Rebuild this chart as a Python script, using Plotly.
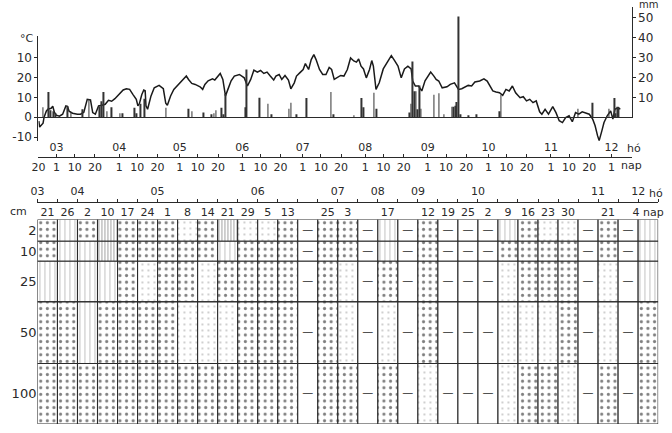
import plotly.graph_objects as go
import pandas as pd

# ---------------- data ----------------
# daily mean air temperature, x = days after 20 Feb
temp_day = [0.2, 0.6, 2.3, 2.8, 3.9, 4.7, 6.3, 7.1, 7.9, 8.8,
            10.4, 12.0, 13.6, 14.4, 15.2, 16.9, 19.3, 20.9, 22.5, 24.2,
            25.8, 26.9, 28.2, 29.8, 31.5, 33.1, 34.7, 36.3, 37.9, 40.4,
            42.0, 43.6, 45.2, 46.8, 48.5, 49.3, 50.1, 51.2, 52.2, 52.9,
            53.3, 54.1, 55.8, 57.4, 59.8, 61.9, 63.1, 63.9, 65.5, 67.1,
            69.6, 72.0, 73.3, 74.4, 76.0, 77.7, 80.1, 81.4, 82.5, 84.1,
            86.3, 87.4, 89.0, 90.1, 91.4, 92.3, 92.7, 93.9, 95.5, 97.1,
            99.6, 102.0, 103.6, 105.2, 106.8, 108.5, 110.1, 111.7, 113.3, 114.9,
            116.6, 117.7, 119.3, 120.6, 122.2, 123.9, 125.1, 126.8, 127.9, 129.5,
            131.2, 132.3, 133.9, 135.2, 136.5, 137.6, 139.3, 140.9, 142.5, 144.1,
            145.3, 146.6, 148.2, 149.8, 151.4, 153.1, 154.7, 156.3, 157.6, 158.7,
            159.9, 161.1, 162.5, 164.1, 165.2, 166.0, 167.3, 168.9, 170.9, 173.3,
            174.9, 176.6, 178.2, 179.8, 181.4, 183.1, 184.7, 185.5, 186.8, 188.4,
            190.0, 191.6, 193.3, 194.4, 196.0, 197.1, 198.4, 200.1, 202.5, 204.1,
            206.2, 208.2, 209.8, 211.4, 213.0, 214.7, 216.3, 218.7, 220.8, 222.4,
            224.1, 225.2, 226.8, 228.5, 230.1, 231.7, 233.3, 234.9, 236.5, 238.7,
            240.3, 241.9, 243.5, 245.1, 246.7, 248.4, 249.5, 251.1, 252.8, 254.9,
            256.5, 258.1, 259.7, 261.3, 263.0, 264.6, 266.2, 267.8, 269.5, 271.1,
            273.0, 274.7, 275.9, 277.1, 277.9, 279.2, 280.3, 281.9, 283.6, 284.7,
            285.7, 287.3, 288.4]
temp_c = [-2, -5, -3, 0, 3, 4, 4.5, 5.5, 2.5, 1,
          0.5, 1.5, 5.7, 5.5, 3, 2, 1.5, 1.5, 2.5, 9,
          8.7, 2.3, 1.5, 5.7, 6, 6.5, 8.5, 8, 9.3, 12.3,
          13.7, 14.3, 14, 11.5, 9, 5.7, 7, 11.3, 13.7, 13.3,
          5.7, 4, 10.7, 14.8, 16, 14.3, 7, 6, 10.7, 14,
          16.5, 19, 20.7, 19, 17, 16.5, 15.3, 14, 16.5, 18.3,
          19.3, 18.7, 21, 22, 19, 12.3, 10.7, 14, 18.3, 20.7,
          21.5, 19.8, 15.7, 19, 23.7, 22.7, 23.5, 22, 22.7, 20.7,
          18.7, 20.7, 21.5, 19, 21, 18.7, 14.3, 17.3, 20.7, 22.3,
          24, 27, 24, 29, 31.5, 29, 24, 21.5, 21.5, 25,
          24, 19, 19.8, 21, 20.7, 24, 29.8, 28.3, 27.7, 29.3,
          25.7, 24.3, 19.8, 24, 28.5, 25.7, 14, 17.3, 24.3, 28.3,
          31, 28.3, 25.7, 19.8, 24.3, 25.7, 24.3, 18.2, 15.7, 15.7,
          13.2, 18.3, 20.7, 22.7, 20.7, 19, 18.2, 14.8, 15.3, 16.5,
          17.3, 14, 14.3, 15.3, 16, 15.7, 17.7, 18.2, 19.3, 18.2,
          15.3, 13.2, 12.7, 12.3, 11, 14, 13.2, 15.7, 12.3, 9.8,
          10.3, 8.2, 9, 7.3, 8.2, 2.7, 1.5, 4, 1.5, 5.3,
          2.3, -1.8, -2.7, -0.2, 0.7, -2.3, 2.3, 1.5, 2.7, 2.3,
          1.5, -1, -4.3, -9.3, -11.8, -7, -2.7, 0.7, 3.2, -1,
          4, 4.8, 4]

# daily precipitation (mm), x = days after 20 Feb
prec_day = [2.3, 5.0, 6.0, 7.5, 8.4, 14.4, 16.1, 21.7, 25.0, 30.3,
            31.1, 32.3, 33.9, 36.3, 40.4, 41.5, 47.7, 48.5, 50.6, 52.5,
            63.1, 74.4, 76.0, 81.7, 85.8, 86.9, 87.9, 90.6, 91.8, 92.7,
            102.5, 103.1, 109.6, 113.8, 115.4, 124.2, 125.1, 127.9, 132.8, 144.9,
            146.2, 156.3, 160.0, 161.1, 166.3, 167.6, 183.9, 184.7, 185.5, 186.3,
            187.1, 187.9, 188.7, 189.5, 196.0, 198.4, 200.9, 204.9, 205.7, 206.6,
            207.3, 208.2, 209.0, 213.0, 217.1, 228.5, 229.2, 267.4, 274.7, 282.7,
            285.4, 286.0, 286.8, 287.6]
prec_mm = [5, 12.7, 3.5, 3, 2, 5.5, 2.5, 4, 9, 5.5,
           8, 12.7, 3, 5, 2, 2, 4.7, 2, 6.7, 9.3,
           4.7, 4.3, 3, 2.3, 1.5, 2, 3.5, 4.7, 1.5, 11.7,
           5, 24, 9.8, 6.7, 1.5, 4.3, 7.3, 1.5, 9.7, 12.7,
           1.5, 1, 9.7, 5, 12.3, 4.3, 2.3, 6.7, 28, 13,
           13, 4, 16, 4.3, 11.3, 12, 1.5, 5.3, 5.3, 5.7,
           7.7, 50.7, 1.5, 1, 1.5, 3, 11.3, 4.3, 7.3, 4.3,
           9.7, 2, 5.3, 5]

year = 1975
start_md = "02-20"
end_md = "12-11"
day_tick_md = ["02-20", "03-01", "03-10", "03-20", "04-01", "04-10", "04-20",
               "05-01", "05-10", "05-20", "06-01", "06-10", "06-20",
               "07-01", "07-10", "07-20", "08-01", "08-10", "08-20",
               "09-01", "09-10", "09-20", "10-01", "10-10", "10-20",
               "11-01", "11-10", "11-20", "12-01"]
month_tick_md = ["03-01", "04-01", "05-01", "06-01", "07-01", "08-01",
                 "09-01", "10-01", "11-01", "12-01"]
month_tick_text = ["03", "04", "05", "06", "07", "08", "09", "10", "11", "12"]
temp_tick_vals = [-10, 0, 10, 20, 30]
temp_tick_text = ["-10", "0", "10", "20", "10"]
prec_tick_vals = [10, 20, 30, 40, 50]

# soil-moisture observation table
obs_day_labels = ["21", "26", "2", "10", "17", "24", "1", "8", "14", "21", "29",
                  "5", "13", "", "25", "3", "", "17", "", "12", "19", "25", "2",
                  "9", "16", "23", "30", "", "21", "", "4 nap"]
obs_month_start_col = [0, 2, 6, 11, 15, 17, 19, 22, 28, 30]
obs_month_labels = ["03", "04", "05", "06", "07", "08", "09", "10", "11", "12"]
depth_labels = ["2", "10", "25", "50", "100"]
moisture_2cm = "DVDHDDDSDHSSDNDDNVNDNNNVDSSNDNV"
moisture_10cm = "DVVHDDDDDVDDDNDDNVNDNNNDDDDNDNV"
moisture_25cm = "VVVVDSDDSDDDDNDSNDNDNNNSDDDNSNV"
moisture_50cm = "DDVDDDDSSSDDDNDSNSNDNNNSSSDNSND"
moisture_100cm = "DDDDDDDDDDDDDNDDNDNSNNNSDDSNDND"
moisture_rows = [moisture_2cm, moisture_10cm, moisture_25cm, moisture_50cm, moisture_100cm]

# ---------------- layout constants (pixels) ----------------
W, H = 672, 433
INK = "#2a2a2a"
FONT = "DejaVu Sans"
ZERO_Y, PX_PER_UNIT = 118, 2.0
TOP_X = (32, 636)
TEMP_Y = (142, 36)
PREC_Y = (118, 7)
DATE_AXIS_Y = 158
GRID_X = (31, 663)
GRID_Y = (427, 221)
HEADER_Y = 203
ROW_PX = [22, 20, 41, 62, 61]

PATTERN = {
    "D": dict(shape=".", size=6.6, solidity=0.17, fg="#000000"),
    "S": dict(shape=".", size=6.0, solidity=0.055, fg="#222222"),
    "V": dict(shape="|", size=5.0, solidity=0.16, fg="#666666"),
    "H": dict(shape="|", size=3.0, solidity=0.30, fg="#333333"),
    "N": dict(shape="", size=8, solidity=0.3, fg="#000000"),
}


def fx(x):
    return x / W


def fy(y):
    return 1 - y / H


def val(y):
    return (ZERO_Y - y) / PX_PER_UNIT


base = pd.Timestamp(f"{year}-{start_md}")


def off(md):
    return (pd.Timestamp(f"{year}-{md}") - base).days


x_end = off(end_md)
day_tick_vals = [off(m) for m in day_tick_md]
day_tick_text = [str(int(m.split("-")[1])) for m in day_tick_md]
month_tick_vals = [off(m) for m in month_tick_md]

fig = go.Figure()

# ---------- top panel ----------
fig.add_trace(go.Bar(x=prec_day, y=prec_mm, width=0.32, xaxis="x2", yaxis="y2",
                     marker=dict(color="#333333", line=dict(width=0)), hoverinfo="x+y"))
fig.add_trace(go.Scatter(x=temp_day, y=temp_c, mode="lines", xaxis="x", yaxis="y",
                         line=dict(color="#1a1a1a", width=1.5)))
fig.add_trace(go.Scatter(x=[], y=[], xaxis="x3", yaxis="y", showlegend=False))

# ---------- soil moisture grid ----------
ncol = len(obs_day_labels)
cols = list(range(ncol))
tops = [sum(ROW_PX[:i]) for i in range(len(ROW_PX))]
for r, row in enumerate(moisture_rows):
    pats = [PATTERN[c] for c in row]
    fig.add_trace(go.Bar(
        x=cols, y=[ROW_PX[r]] * ncol, base=[tops[r]] * ncol, width=1.0,
        xaxis="x4", yaxis="y4",
        marker=dict(color="white", line=dict(color=INK, width=1.1),
                    pattern=dict(shape=[p["shape"] for p in pats],
                                 size=[p["size"] for p in pats],
                                 solidity=[p["solidity"] for p in pats],
                                 fgcolor=[p["fg"] for p in pats],
                                 fillmode="overlay")),
        hoverinfo="skip"))
    miss_x = [c for c, k in zip(cols, row) if k == "N"]
    fig.add_trace(go.Scatter(
        x=miss_x, y=[tops[r] + ROW_PX[r] / 2] * len(miss_x), mode="text", text=["—"] * len(miss_x),
        textfont=dict(family=FONT, size=11, color=INK), xaxis="x4", yaxis="y4", hoverinfo="skip"))

fig.add_trace(go.Scatter(x=[], y=[], xaxis="x5", yaxis="y4", showlegend=False))
fig.add_trace(go.Scatter(x=[], y=[], xaxis="x6", yaxis="y4", showlegend=False))

labelled = [i for i, t in enumerate(obs_day_labels) if t]
tick_font = dict(family=FONT, size=11, color=INK)

fig.update_layout(
    width=W, height=H, margin=dict(l=0, r=0, t=0, b=0),
    paper_bgcolor="white", plot_bgcolor="rgba(0,0,0,0)", showlegend=False,
    barmode="overlay", font=dict(family=FONT, size=11, color=INK),
    xaxis=dict(domain=[fx(TOP_X[0]), fx(TOP_X[1])], range=[0, x_end], anchor="free",
               position=fy(DATE_AXIS_Y), showline=True, linecolor=INK, linewidth=1.1,
               tickmode="array", tickvals=day_tick_vals, ticktext=day_tick_text,
               ticks="inside", ticklen=3, tickcolor=INK, tickfont=tick_font,
               showgrid=False, zeroline=False),
    xaxis3=dict(overlaying="x", range=[0, x_end], anchor="free", position=fy(DATE_AXIS_Y),
                side="top", showline=False, tickmode="array", tickvals=month_tick_vals,
                ticktext=month_tick_text, ticks="outside", ticklen=2, tickcolor=INK,
                tickfont=tick_font, showgrid=False, zeroline=False),
    xaxis2=dict(overlaying="x", range=[0, x_end], anchor="y2", showline=True,
                linecolor=INK, linewidth=1.1, showticklabels=False, ticks="",
                showgrid=False, zeroline=False),
    yaxis=dict(domain=[fy(TEMP_Y[0]), fy(TEMP_Y[1])], range=[val(TEMP_Y[0]), val(TEMP_Y[1])],
               anchor="x", showline=True, linecolor=INK, linewidth=1.1,
               tickmode="array", tickvals=temp_tick_vals, ticktext=temp_tick_text,
               ticks="outside", ticklen=3, tickcolor=INK, tickfont=dict(family=FONT, size=12, color=INK),
               showgrid=False, zeroline=False),
    yaxis2=dict(domain=[fy(PREC_Y[0]), fy(PREC_Y[1])], range=[0, val(PREC_Y[1])],
                anchor="x2", side="right", showline=True, linecolor=INK, linewidth=1.1,
                tickmode="array", tickvals=prec_tick_vals, ticks="outside", ticklen=3,
                tickcolor=INK, tickfont=dict(family=FONT, size=12, color=INK),
                showgrid=False, zeroline=False),
    xaxis4=dict(domain=[fx(GRID_X[0]), fx(GRID_X[1])], range=[-0.5, ncol - 0.5], anchor="y4",
                showline=False, showticklabels=False, ticks="", showgrid=False, zeroline=False),
    yaxis4=dict(domain=[fy(GRID_Y[0]), fy(GRID_Y[1])], range=[sum(ROW_PX), 0], anchor="x4",
                tickmode="array", tickvals=[t + h / 2 for t, h in zip(tops, ROW_PX)],
                ticktext=depth_labels, ticks="", showline=False, showgrid=False, zeroline=False,
                tickfont=dict(family=FONT, size=13, color=INK)),
    xaxis5=dict(overlaying="x4", range=[-0.5, ncol - 0.5], anchor="free", position=fy(HEADER_Y),
                side="bottom", showline=True, linecolor=INK, linewidth=1.1,
                tickmode="array", tickvals=labelled,
                ticktext=[obs_day_labels[i] for i in labelled], ticks="",
                minor=dict(tickmode="array", tickvals=[c - 0.5 for c in cols] + [ncol - 0.5],
                           ticks="inside", ticklen=3, tickcolor=INK),
                tickfont=tick_font, showgrid=False, zeroline=False),
    xaxis6=dict(overlaying="x4", range=[-0.5, ncol - 0.5], anchor="free", position=fy(HEADER_Y),
                side="top", showline=False, tickmode="array",
                tickvals=[c - 0.5 for c in obs_month_start_col], ticktext=obs_month_labels,
                ticks="outside", ticklen=2, tickcolor=INK, tickfont=tick_font,
                showgrid=False, zeroline=False),
)

annos = [
    ("°C", 20, 39, "center", 11),
    ("mm", 641, 5, "left", 10),
    ("hó", 629, 150, "left", 11),
    ("nap", 623, 167, "left", 11),
    ("cm", 12, 213, "center", 11),
    ("hó", 652, 195, "left", 11),
]
for text, x, y, xa, size in annos:
    fig.add_annotation(text=text, x=fx(x), y=fy(y), xref="paper", yref="paper",
                       xanchor=xa, yanchor="middle", showarrow=False,
                       font=dict(family=FONT, size=size, color=INK))

fig.write_html("out.html", config={"displayModeBar": False},
               post_script="document.body.style.margin='0px';")
